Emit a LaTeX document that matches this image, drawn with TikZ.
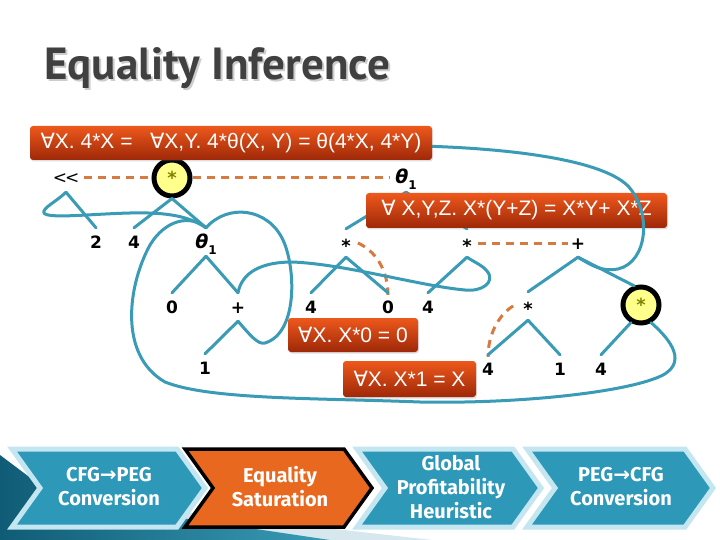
\documentclass[tikz,border=0pt]{standalone}
\usepackage{fontspec}
\setmainfont{Liberation Sans}
\newfontfamily\djv{DejaVu Sans}
\newfontfamily\ptsans{PT Sans}
\newfontfamily\fira{Fira Sans}
\usetikzlibrary{shadows}
\definecolor{tealc}{RGB}{58,155,182}
\definecolor{dashc}{RGB}{214,122,64}
\definecolor{yellowc}{RGB}{255,255,140}
\definecolor{olivec}{RGB}{130,130,0}
\definecolor{boxtop}{RGB}{238,88,28}
\definecolor{boxbot}{RGB}{158,40,8}
\definecolor{chevteal}{RGB}{46,152,184}
\definecolor{chevlight}{RGB}{196,230,241}
\definecolor{chevorange}{RGB}{232,104,32}
\definecolor{titlec}{RGB}{64,64,64}
\definecolor{titleshc}{RGB}{205,205,205}
\definecolor{ornadark}{RGB}{16,92,118}
\definecolor{ornalight}{RGB}{214,232,238}
\newcommand{\fa}{{\djv ∀}}
\newcommand{\thl}{{\djv\bfseries\itshape\fontsize{19}{19}\selectfont θ}\raisebox{-6pt}{\djv\bfseries\fontsize{12}{12}\selectfont 1}}
\newcommand{\stl}{\raisebox{-3.5pt}{\fontsize{18}{18}\selectfont *}}
\newcommand{\titletext}{Equality Inference}
\tikzset{
  lbl/.style={font=\djv\bfseries\fontsize{17}{17}\selectfont, inner sep=0pt, minimum height=28pt, text height=12pt, text depth=0pt},
  edge/.style={draw=tealc, line width=3pt, line cap=round, line join=round},
  dashl/.style={draw=dashc, line width=3pt, dash pattern=on 8pt off 6pt},
  eqcirc/.style={circle, fill=yellowc, draw=black, line width=5pt, minimum size=36pt, inner sep=0pt, text=olivec, font=\djv\bfseries\fontsize{16}{16}\selectfont},
  rulebox/.style={rounded corners=3pt, top color=boxtop, bottom color=boxbot, draw=none, text=white, font=\fontsize{21}{21}\selectfont, inner sep=0pt, drop shadow={opacity=0.25, shadow xshift=1pt, shadow yshift=-1.5pt}},
  chevt/.style={fill=chevteal, draw=chevlight, line width=5pt, line join=miter},
  chevo/.style={fill=chevorange, draw=black, line width=3.5pt, line join=miter},
  chevtext/.style={text=white, align=center, font=\fira\bfseries\fontsize{20}{24}\selectfont},
}
\begin{document}
\begin{tikzpicture}[x=1pt,y=-1pt]
\useasboundingbox (0,0) rectangle (720,540);
\fill[white] (0,0) rectangle (720,540);

% title (with its shadow in the same node)
\node[anchor=base west, font=\ptsans\bfseries\fontsize{45}{45}\selectfont, text=titlec, inner sep=0pt] (title) at (44,80) {\makebox[0pt][l]{\hspace{2pt}\raisebox{-2pt}{\textcolor{titleshc}{\titletext}}}\titletext};

% nodes
\node[lbl] (lt) at (66,178) {\djv\mdseries <\kern-2pt<};
\node[eqcirc] (cL) at (172,178) {\stl};
\node[lbl] (thT) at (406,178) {\thl};

\node[lbl] (two) at (96,242) {2};
\node[lbl] (four1) at (134,242) {4};
\node[lbl] (th2) at (206,242) {\thl};
\node[lbl] (s1) at (346,243) {\stl};
\node[lbl] (s2) at (467,243) {\stl};
\node[lbl] (p2) at (578,243) {+};

\node[lbl] (zero1) at (172,307) {0};
\node[lbl] (plus1) at (238,307) {+};
\node[lbl] (four2) at (311,307) {4};
\node[lbl] (zero2) at (388,307) {0};
\node[lbl] (four3) at (428,307) {4};
\node[lbl] (s3) at (528,306) {\stl};
\node[eqcirc] (cR) at (641,305) {\stl};

\node[lbl] (one1) at (205,368) {1};
\node[lbl] (four4) at (488,369) {4};
\node[lbl] (one2) at (560,369) {1};
\node[lbl] (four5) at (601,369) {4};

% dashed equivalences
\draw[dashl, shorten <=5pt] (lt.east) -- (cL.west);
\draw[dashl, shorten >=5pt] (cL.east) -- (thT.west);
\draw[dashl, shorten <=6pt, shorten >=3pt] (s2.east) -- (p2.west);
\draw[dashl] ([xshift=7pt]s1.east) .. controls +(18,8) and +(0,-24) .. ([yshift=-2pt]zero2.north);
\draw[dashl] ([xshift=-10pt]s3.west) .. controls +(-16,10) and +(0,-20) .. ([yshift=-2pt]four4.north);

% tree edges
\draw[edge] (lt.south) -- (two.north);
\draw[edge] (cL.south) -- (four1.north);
\draw[edge] (cL.south) -- (th2.north);
\draw[edge] (th2.south) -- (zero1.north);
\draw[edge] (th2.south) -- (plus1.north);
\draw[edge] (plus1.south) -- (one1.north);
\draw[edge] (s1.south) -- (four2.north);
\draw[edge] (s1.south) -- (zero2.north);
\draw[edge] (s2.south) -- (four3.north);
\draw[edge] (p2.south) -- (s3.north);
\draw[edge] (p2.south) -- (cR.110);
\draw[edge] (s3.south) -- (four4.north);
\draw[edge] (s3.south) -- (one2.north);
\draw[edge] (cR.240) -- (four5.north);

% curved edges
\draw[edge] (lt.south) .. controls (56,202) and (42,208) .. (44,213) .. controls (48,219) and (90,214) .. (130,213) .. controls (170,212) and (190,217) .. (th2.north);
\draw[edge] (th2.north) .. controls (190,214) and (165,220) .. (150,245) .. controls (128,285) and (118,355) .. (165,382) .. controls (210,400) and (320,398) .. (420,402) .. controls (520,404) and (630,392) .. (663,375) .. controls (690,360) and (665,335) .. (cR.300);
\draw[edge] (plus1.south) .. controls (250,335) and (258,345) .. (265,343) .. controls (298,333) and (296,268) .. (283,240) .. controls (268,208) and (228,203) .. (th2.north);
\draw[edge] (plus1.north) .. controls (242,272) and (262,262) .. (292,262) .. controls (345,264) and (420,286) .. (465,290) .. controls (482,292) and (496,282) .. (487,271) .. controls (482,265) and (474,262) .. (s2.south);

% theta top edges (hidden behind rule box)
\draw[edge] (thT.south) -- (s1.north);
\draw[edge] (thT.south) -- (s2.north);

\node[rulebox, minimum width=301pt, minimum height=35pt] (rD) at (516.5,210.5) {\fa\ X,Y,Z. X*(Y+Z) = X*Y+ X*Z};

\coordinate (eStart) at (420,146);
\draw[edge] (eStart) .. controls (500,148) and (600,158) .. (628,186) .. controls (652,212) and (648,262) .. (618,269) .. controls (603,272) and (592,266) .. (p2.south);

\node[rulebox, minimum width=402pt, minimum height=34pt] (rA) at (231,143) {\fa X. 4*X = \ \ \fa X,Y. 4*θ(X, Y) = θ(4*X, 4*Y)};
\node[rulebox, minimum width=130pt, minimum height=34pt] (rZ) at (353,335) {\fa X. X*0 = 0};
\node[rulebox, minimum width=133pt, minimum height=36pt] (rO) at (409.5,379) {\fa X. X*1 = X};

% ornament
\fill[ornalight] (185,512) -- (432,540) -- (185,540) -- cycle;
\shade[left color=ornadark, right color=tealc] (0,455) -- (60,500) -- (330,540) -- (0,540) -- cycle;

% chevrons
\draw[chevt] (12,449) -- (177,449) -- (205,488) -- (177,527) -- (12,527) -- (40,488) -- cycle;
\draw[chevo] (185,449) -- (344,449) -- (372,488) -- (344,527) -- (185,527) -- (213,488) -- cycle;
\draw[chevt] (357,449) -- (513,449) -- (541,488) -- (513,527) -- (357,527) -- (385,488) -- cycle;
\draw[chevt] (527,449) -- (685,449) -- (713,488) -- (685,527) -- (527,527) -- (555,488) -- cycle;

\node[chevtext] (t1) at (109,487) {CFG{\djv\bfseries →}PEG\\Conversion};
\node[chevtext] (t2) at (280,487) {Equality\\Saturation};
\node[chevtext] (t3) at (451,487) {Global\\Profitability\\Heuristic};
\node[chevtext] (t4) at (621,487) {PEG{\djv\bfseries →}CFG\\Conversion};
\end{tikzpicture}
\end{document}
